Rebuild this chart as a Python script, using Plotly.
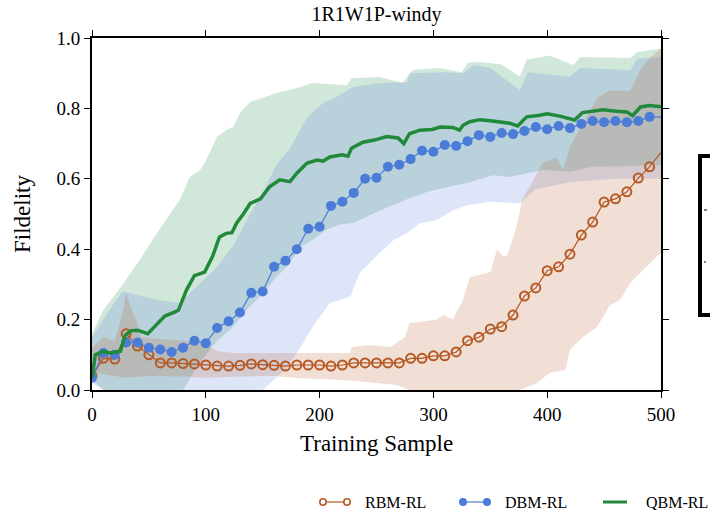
import plotly.graph_objects as go

# ---------------- data ----------------
MARK_X = list(range(0, 500, 10))

RBM_Y = [0.04, 0.09, 0.088, 0.16, 0.125, 0.10, 0.077, 0.077, 0.075, 0.074,
         0.071, 0.068, 0.068, 0.07, 0.074, 0.072, 0.07, 0.068, 0.071, 0.071,
         0.071, 0.068, 0.071, 0.077, 0.077, 0.077, 0.077, 0.077, 0.09, 0.09,
         0.097, 0.097, 0.108, 0.14, 0.15, 0.173, 0.18, 0.213, 0.267, 0.29,
         0.339, 0.35, 0.386, 0.44, 0.477, 0.534, 0.543, 0.563, 0.602, 0.634]
RBM_END = [490, 500]
RBM_END_Y = [0.634, 0.675]

DBM_Y = [0.035, 0.105, 0.10, 0.135, 0.135, 0.12, 0.115, 0.108, 0.12, 0.14,
         0.133, 0.176, 0.195, 0.22, 0.276, 0.28, 0.35, 0.367, 0.40, 0.458,
         0.464, 0.523, 0.535, 0.56, 0.60, 0.603, 0.634, 0.64, 0.656, 0.68,
         0.677, 0.696, 0.693, 0.707, 0.724, 0.719, 0.73, 0.727, 0.736, 0.747,
         0.741, 0.75, 0.744, 0.756, 0.764, 0.761, 0.764, 0.761, 0.764, 0.776]
DBM_END = [490, 500]
DBM_END_Y = [0.776, 0.775]

QBM_X = [0, 3, 10, 15, 20, 25, 29, 34, 40, 45, 49, 55, 64, 73, 76, 83, 90, 99,
         106, 112, 118, 123, 127, 133, 139, 148, 156, 165, 174, 180, 189, 198,
         203, 209, 220, 225, 228, 238, 248, 259, 269, 274, 279, 288, 299, 306,
         317, 323, 326, 332, 341, 350, 360, 367, 374, 382, 392, 400, 411, 418,
         424, 431, 440, 449, 461, 470, 475, 482, 490, 500]
QBM_Y = [0.035, 0.10, 0.11, 0.105, 0.107, 0.11, 0.155, 0.168, 0.17, 0.165,
         0.16, 0.18, 0.21, 0.222, 0.227, 0.284, 0.325, 0.335, 0.38, 0.435,
         0.445, 0.447, 0.474, 0.50, 0.53, 0.543, 0.577, 0.597, 0.592, 0.616,
         0.645, 0.653, 0.65, 0.662, 0.668, 0.664, 0.687, 0.704, 0.71, 0.72,
         0.716, 0.70, 0.728, 0.738, 0.74, 0.747, 0.746, 0.738, 0.752, 0.762,
         0.768, 0.765, 0.762, 0.758, 0.75, 0.776, 0.78, 0.785, 0.778, 0.773,
         0.767, 0.788, 0.792, 0.796, 0.792, 0.79, 0.779, 0.804, 0.808, 0.805]

# shaded bands (upper / lower envelopes)
QBM_UP_X = [0, 10, 27, 42, 57, 77, 86, 95, 99, 110, 119, 124, 130, 139, 150,
            162, 174, 194, 224, 228, 253, 273, 282, 306, 325, 330, 341, 360,
            376, 382, 402, 423, 429, 473, 479, 500]
QBM_UP_Y = [0.16, 0.227, 0.30, 0.37, 0.445, 0.54, 0.605, 0.625, 0.645, 0.72,
            0.74, 0.747, 0.787, 0.818, 0.83, 0.844, 0.852, 0.872, 0.866, 0.886,
            0.889, 0.872, 0.91, 0.915, 0.903, 0.93, 0.932, 0.925, 0.89, 0.938,
            0.95, 0.923, 0.946, 0.943, 0.96, 0.97]
QBM_LO_X = [0, 10, 80, 95, 110, 124, 136, 150, 162, 174, 183, 194, 206, 218,
            230, 253, 279, 297, 315, 332, 352, 367, 396, 420, 440, 470, 500]
QBM_LO_Y = [0.03, 0.0, 0.0, 0.08, 0.14, 0.18, 0.227, 0.275, 0.32, 0.36, 0.406,
            0.426, 0.455, 0.47, 0.475, 0.51, 0.545, 0.565, 0.578, 0.59, 0.61,
            0.605, 0.625, 0.62, 0.634, 0.636, 0.64]

DBM_UP_X = [0, 10, 20, 27, 40, 57, 77, 86, 110, 124, 139, 150, 162, 174, 189,
            203, 215, 229, 253, 277, 279, 312, 326, 335, 350, 376, 383, 420,
            429, 473, 479, 500]
DBM_UP_Y = [0.15, 0.2, 0.25, 0.28, 0.27, 0.256, 0.247, 0.275, 0.35, 0.41, 0.5,
            0.56, 0.64, 0.687, 0.775, 0.815, 0.833, 0.86, 0.872, 0.875, 0.9,
            0.903, 0.9, 0.923, 0.915, 0.852, 0.903, 0.89, 0.915, 0.909, 0.94,
            0.946]
DBM_LO_X = [0, 10, 150, 160, 170, 180, 194, 209, 227, 235, 253, 265, 277, 288,
            303, 317, 329, 350, 376, 390, 420, 460, 500]
DBM_LO_Y = [0.02, 0.0, 0.0, 0.03, 0.06, 0.105, 0.18, 0.247, 0.265, 0.332, 0.39,
            0.426, 0.446, 0.474, 0.483, 0.51, 0.525, 0.535, 0.53, 0.57, 0.59,
            0.6, 0.6]

RBM_UP_X = [0, 10, 20, 27, 30, 34, 40, 43, 60, 80, 100, 110, 125, 160, 180,
            227, 228, 244, 262, 275, 279, 288, 303, 309, 317, 326, 332, 350,
            356, 361, 365, 373, 378, 385, 396, 408, 414, 420, 444, 455, 473,
            482, 491, 500]
RBM_UP_Y = [0.12, 0.15, 0.14, 0.22, 0.275, 0.235, 0.19, 0.15, 0.145, 0.14,
            0.13, 0.11, 0.105, 0.105, 0.105, 0.105, 0.122, 0.128, 0.122, 0.15,
            0.19, 0.193, 0.2, 0.213, 0.2, 0.256, 0.32, 0.335, 0.40, 0.38, 0.383,
            0.463, 0.54, 0.58, 0.645, 0.66, 0.625, 0.69, 0.83, 0.85, 0.85, 0.91,
            0.946, 0.97]
RBM_LO_X = [0, 10, 30, 50, 80, 100, 130, 160, 180, 224, 268, 279, 376, 391,
            402, 416, 420, 431, 444, 455, 464, 473, 484, 496, 500]
RBM_LO_Y = [0.05, 0.045, 0.035, 0.04, 0.038, 0.035, 0.038, 0.04, 0.034, 0.028,
            0.014, 0.0, 0.0, 0.02, 0.048, 0.057, 0.114, 0.15, 0.18, 0.24, 0.256,
            0.304, 0.34, 0.378, 0.39]

X_TICKS = [0, 100, 200, 300, 400, 500]
Y_TICKS = [0.0, 0.2, 0.4, 0.6, 0.8, 1.0]
SERIES = ["RBM-RL", "DBM-RL", "QBM-RL"]

# ---------------- style ----------------
FONT = "Liberation Serif"
C_RBM = "#b55a24"
C_DBM = "#4a7cd8"
C_QBM = "#21893a"
F_RBM = "rgba(184,96,48,0.20)"
F_DBM = "rgba(70,110,220,0.18)"
F_QBM = "rgba(40,140,80,0.21)"

W, H = 710, 510
ML, MR, MT, MB = 92, 49, 38, 120
PW, PH = W - ML - MR, H - MT - MB


def px(xp):
    return (xp - ML) / PW


def py(yp):
    return (H - MB - yp) / PH


def band(ux, uy, lx, ly, color):
    return go.Scatter(x=list(ux) + list(lx)[::-1], y=list(uy) + list(ly)[::-1],
                      fill="toself", fillcolor=color, mode="none",
                      hoverinfo="skip", showlegend=False)


fig = go.Figure()
fig.add_trace(band(QBM_UP_X, QBM_UP_Y, QBM_LO_X, QBM_LO_Y, F_QBM))
fig.add_trace(band(DBM_UP_X, DBM_UP_Y, DBM_LO_X, DBM_LO_Y, F_DBM))
fig.add_trace(band(RBM_UP_X, RBM_UP_Y, RBM_LO_X, RBM_LO_Y, F_RBM))

fig.add_trace(go.Scatter(x=RBM_END, y=RBM_END_Y, mode="lines",
                         line=dict(color=C_RBM, width=1.2), showlegend=False))
fig.add_trace(go.Scatter(x=MARK_X, y=RBM_Y, mode="lines+markers", name=SERIES[0],
                         line=dict(color=C_RBM, width=1.2),
                         marker=dict(symbol="circle-open", size=9,
                                     line=dict(color=C_RBM, width=2)),
                         showlegend=False))
fig.add_trace(go.Scatter(x=DBM_END, y=DBM_END_Y, mode="lines",
                         line=dict(color=C_DBM, width=1.2), showlegend=False))
fig.add_trace(go.Scatter(x=MARK_X, y=DBM_Y, mode="lines+markers", name=SERIES[1],
                         line=dict(color=C_DBM, width=1.2),
                         marker=dict(symbol="circle", size=10, color=C_DBM),
                         showlegend=False))
fig.add_trace(go.Scatter(x=QBM_X, y=QBM_Y, mode="lines", name=SERIES[2],
                         line=dict(color=C_QBM, width=3.5), showlegend=False))

# ---------------- custom legend (bottom) ----------------
shapes = []
annotations = []
leg_y = 502
entries = [(323, 347, 363, SERIES[0]), (463, 487, 503, SERIES[1]), (603, 627, 644, SERIES[2])]
for i, (a, b, t, name) in enumerate(entries):
    col = [C_RBM, C_DBM, C_QBM][i]
    shapes.append(dict(type="line", xref="paper", yref="paper",
                       x0=px(a), x1=px(b), y0=py(leg_y), y1=py(leg_y),
                       line=dict(color=col, width=3 if i == 2 else 1.2)))
    if i < 2:
        r = 3.2
        for c in (a, b):
            shapes.append(dict(type="circle", xref="paper", yref="paper",
                               x0=px(c - r), x1=px(c + r),
                               y0=py(leg_y + r), y1=py(leg_y - r),
                               line=dict(color=col, width=1.6),
                               fillcolor="white" if i == 0 else col))
    annotations.append(dict(text=name, xref="paper", yref="paper",
                            x=px(t), y=py(leg_y), xanchor="left", yanchor="middle",
                            showarrow=False, font=dict(family=FONT, size=16, color="black")))

# cut-off box at the right edge
shapes.append(dict(type="rect", xref="paper", yref="paper",
                   x0=px(700), x1=px(720), y0=py(315), y1=py(156),
                   line=dict(color="black", width=4)))
shapes.append(dict(type="line", xref="paper", yref="paper",
                   x0=px(704), x1=px(707), y0=py(210), y1=py(210),
                   line=dict(color="black", width=1)))
shapes.append(dict(type="line", xref="paper", yref="paper",
                   x0=px(704), x1=px(706), y0=py(262), y1=py(262),
                   line=dict(color="black", width=1)))

# axis titles
annotations.append(dict(text="Training Sample", xref="paper", yref="paper",
                        x=0.5, y=py(443), xanchor="center", yanchor="middle",
                        showarrow=False, font=dict(family=FONT, size=23, color="black")))
annotations.append(dict(text="Fildelity", xref="paper", yref="paper",
                        x=px(22), y=0.5, xanchor="center", yanchor="middle",
                        textangle=-90, showarrow=False,
                        font=dict(family=FONT, size=23, color="black")))

axis_common = dict(showline=True, linecolor="black", linewidth=2, mirror="ticks",
                   ticks="outside", ticklen=6, tickwidth=1.3, tickcolor="black",
                   showgrid=False, zeroline=False,
                   tickfont=dict(family=FONT, size=19, color="black"))

fig.update_layout(
    width=W, height=H,
    margin=dict(l=ML, r=MR, t=MT, b=MB, pad=0),
    paper_bgcolor="white", plot_bgcolor="white",
    title=dict(text="1R1W1P-windy", x=0.5, xref="paper", xanchor="center",
               y=1 - 14 / H, yref="container", yanchor="middle",
               font=dict(family=FONT, size=20, color="black")),
    xaxis=dict(range=[0, 500], tickvals=X_TICKS, **axis_common),
    yaxis=dict(range=[0, 1], tickvals=Y_TICKS, tickformat=".1f", **axis_common),
    shapes=shapes, annotations=annotations, showlegend=False,
)

fig.write_html("out.html")
